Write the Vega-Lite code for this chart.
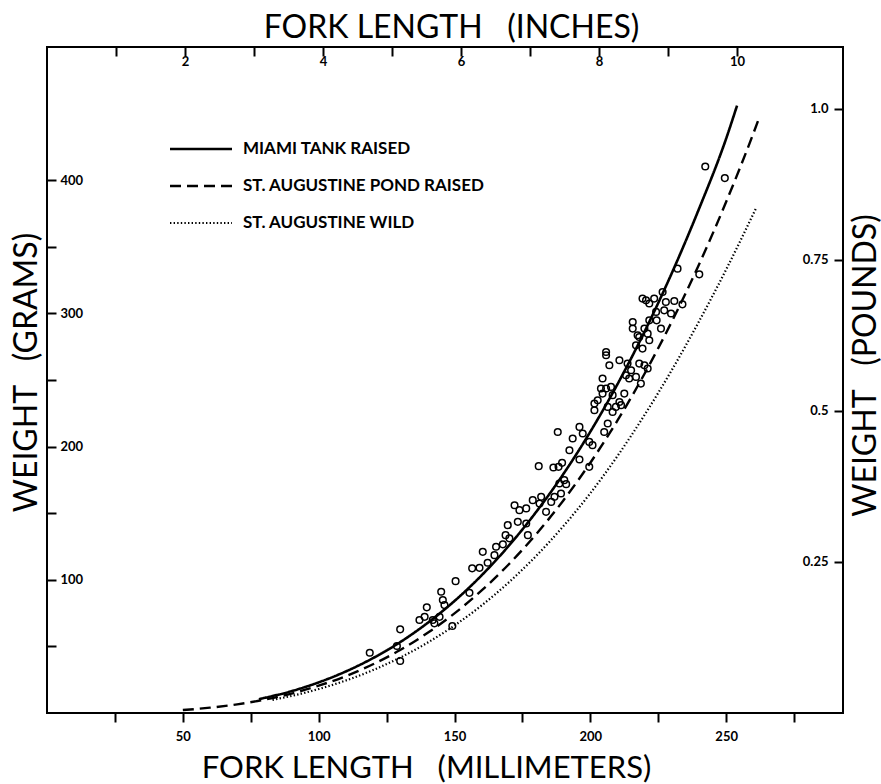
{
  "$schema": "https://vega.github.io/schema/vega-lite/v6.json",
  "width": 796,
  "height": 666,
  "autosize": {"type": "none"},
  "padding": {"left": 47, "top": 47, "right": 38, "bottom": 71},
  "background": "white",
  "datasets": {
    "curves": [
      {"series": "MIAMI TANK RAISED", "mm": 78, "g": 10.4},
      {"series": "MIAMI TANK RAISED", "mm": 90, "g": 16.4},
      {"series": "MIAMI TANK RAISED", "mm": 100, "g": 23.0},
      {"series": "MIAMI TANK RAISED", "mm": 110, "g": 31.2},
      {"series": "MIAMI TANK RAISED", "mm": 120, "g": 41.2},
      {"series": "MIAMI TANK RAISED", "mm": 130, "g": 53.2},
      {"series": "MIAMI TANK RAISED", "mm": 140, "g": 67.5},
      {"series": "MIAMI TANK RAISED", "mm": 150, "g": 84.1},
      {"series": "MIAMI TANK RAISED", "mm": 160, "g": 103.4},
      {"series": "MIAMI TANK RAISED", "mm": 170, "g": 125.6},
      {"series": "MIAMI TANK RAISED", "mm": 180, "g": 150.8},
      {"series": "MIAMI TANK RAISED", "mm": 190, "g": 179.2},
      {"series": "MIAMI TANK RAISED", "mm": 200, "g": 211.2},
      {"series": "MIAMI TANK RAISED", "mm": 210, "g": 246.9},
      {"series": "MIAMI TANK RAISED", "mm": 220, "g": 286.5},
      {"series": "MIAMI TANK RAISED", "mm": 230, "g": 330.3},
      {"series": "MIAMI TANK RAISED", "mm": 240, "g": 378.5},
      {"series": "MIAMI TANK RAISED", "mm": 250, "g": 431.3},
      {"series": "MIAMI TANK RAISED", "mm": 254, "g": 456.0},
      {"series": "ST. AUGUSTINE POND RAISED", "mm": 50, "g": 2.2},
      {"series": "ST. AUGUSTINE POND RAISED", "mm": 60, "g": 4.0},
      {"series": "ST. AUGUSTINE POND RAISED", "mm": 70, "g": 6.5},
      {"series": "ST. AUGUSTINE POND RAISED", "mm": 80, "g": 10.0},
      {"series": "ST. AUGUSTINE POND RAISED", "mm": 90, "g": 14.6},
      {"series": "ST. AUGUSTINE POND RAISED", "mm": 100, "g": 20.5},
      {"series": "ST. AUGUSTINE POND RAISED", "mm": 110, "g": 27.7},
      {"series": "ST. AUGUSTINE POND RAISED", "mm": 120, "g": 36.6},
      {"series": "ST. AUGUSTINE POND RAISED", "mm": 130, "g": 47.3},
      {"series": "ST. AUGUSTINE POND RAISED", "mm": 140, "g": 60.0},
      {"series": "ST. AUGUSTINE POND RAISED", "mm": 150, "g": 74.8},
      {"series": "ST. AUGUSTINE POND RAISED", "mm": 160, "g": 92.0},
      {"series": "ST. AUGUSTINE POND RAISED", "mm": 170, "g": 111.7},
      {"series": "ST. AUGUSTINE POND RAISED", "mm": 180, "g": 134.1},
      {"series": "ST. AUGUSTINE POND RAISED", "mm": 190, "g": 159.4},
      {"series": "ST. AUGUSTINE POND RAISED", "mm": 200, "g": 187.9},
      {"series": "ST. AUGUSTINE POND RAISED", "mm": 210, "g": 219.6},
      {"series": "ST. AUGUSTINE POND RAISED", "mm": 220, "g": 254.9},
      {"series": "ST. AUGUSTINE POND RAISED", "mm": 230, "g": 293.9},
      {"series": "ST. AUGUSTINE POND RAISED", "mm": 240, "g": 336.7},
      {"series": "ST. AUGUSTINE POND RAISED", "mm": 250, "g": 383.8},
      {"series": "ST. AUGUSTINE POND RAISED", "mm": 260, "g": 435.1},
      {"series": "ST. AUGUSTINE POND RAISED", "mm": 262, "g": 446.0},
      {"series": "ST. AUGUSTINE WILD", "mm": 83, "g": 9.9},
      {"series": "ST. AUGUSTINE WILD", "mm": 90, "g": 12.8},
      {"series": "ST. AUGUSTINE WILD", "mm": 100, "g": 18.0},
      {"series": "ST. AUGUSTINE WILD", "mm": 110, "g": 24.4},
      {"series": "ST. AUGUSTINE WILD", "mm": 120, "g": 32.2},
      {"series": "ST. AUGUSTINE WILD", "mm": 130, "g": 41.6},
      {"series": "ST. AUGUSTINE WILD", "mm": 140, "g": 52.7},
      {"series": "ST. AUGUSTINE WILD", "mm": 150, "g": 65.7},
      {"series": "ST. AUGUSTINE WILD", "mm": 160, "g": 80.8},
      {"series": "ST. AUGUSTINE WILD", "mm": 170, "g": 98.1},
      {"series": "ST. AUGUSTINE WILD", "mm": 180, "g": 117.8},
      {"series": "ST. AUGUSTINE WILD", "mm": 190, "g": 140.1},
      {"series": "ST. AUGUSTINE WILD", "mm": 200, "g": 165.0},
      {"series": "ST. AUGUSTINE WILD", "mm": 210, "g": 193.0},
      {"series": "ST. AUGUSTINE WILD", "mm": 220, "g": 223.9},
      {"series": "ST. AUGUSTINE WILD", "mm": 230, "g": 257.5},
      {"series": "ST. AUGUSTINE WILD", "mm": 240, "g": 294.0},
      {"series": "ST. AUGUSTINE WILD", "mm": 250, "g": 333.0},
      {"series": "ST. AUGUSTINE WILD", "mm": 261, "g": 379.0}
    ],
    "fish": [
      {"mm": 118.8, "g": 45.2}, {"mm": 130.0, "g": 62.8}, {"mm": 130.0, "g": 39.0}, {"mm": 128.8, "g": 50.3},
      {"mm": 137.1, "g": 69.8}, {"mm": 139.8, "g": 79.3}, {"mm": 139.0, "g": 72.2}, {"mm": 142.0, "g": 69.8},
      {"mm": 144.5, "g": 72.2}, {"mm": 142.6, "g": 67.3}, {"mm": 145.1, "g": 91.0}, {"mm": 145.7, "g": 84.8},
      {"mm": 146.3, "g": 81.0}, {"mm": 149.2, "g": 65.3}, {"mm": 150.4, "g": 99.0}, {"mm": 155.5, "g": 90.2},
      {"mm": 156.5, "g": 108.6}, {"mm": 159.2, "g": 109.0}, {"mm": 160.4, "g": 121.0}, {"mm": 162.2, "g": 112.8},
      {"mm": 164.7, "g": 118.5}, {"mm": 165.3, "g": 124.8}, {"mm": 167.8, "g": 126.6}, {"mm": 168.8, "g": 133.5},
      {"mm": 169.6, "g": 141.0}, {"mm": 170.2, "g": 131.1}, {"mm": 173.3, "g": 143.5}, {"mm": 176.4, "g": 142.3},
      {"mm": 177.0, "g": 133.5},
      {"mm": 172.1, "g": 156.0}, {"mm": 173.9, "g": 152.3}, {"mm": 176.4, "g": 153.6}, {"mm": 178.8, "g": 159.8},
      {"mm": 181.3, "g": 157.3}, {"mm": 181.9, "g": 162.3}, {"mm": 183.7, "g": 151.0}, {"mm": 185.6, "g": 158.5},
      {"mm": 186.8, "g": 162.3}, {"mm": 181.0, "g": 185.3}, {"mm": 186.4, "g": 184.3}, {"mm": 188.3, "g": 184.8},
      {"mm": 189.6, "g": 187.8}, {"mm": 188.6, "g": 172.3}, {"mm": 190.4, "g": 174.8}, {"mm": 191.1, "g": 171.8},
      {"mm": 189.2, "g": 164.8}, {"mm": 192.3, "g": 197.3}, {"mm": 196.0, "g": 190.3}, {"mm": 199.6, "g": 184.8},
      {"mm": 188.0, "g": 211.0}, {"mm": 193.5, "g": 206.1}, {"mm": 196.0, "g": 214.8}, {"mm": 197.2, "g": 209.8},
      {"mm": 199.6, "g": 203.5}, {"mm": 200.8, "g": 201.1}, {"mm": 205.1, "g": 211.0}, {"mm": 206.4, "g": 217.3},
      {"mm": 201.5, "g": 232.3}, {"mm": 202.7, "g": 234.8}, {"mm": 201.5, "g": 227.3}, {"mm": 206.4, "g": 229.8},
      {"mm": 209.4, "g": 229.8}, {"mm": 211.3, "g": 231.1}, {"mm": 208.2, "g": 226.0}, {"mm": 210.7, "g": 233.5},
      {"mm": 204.5, "g": 239.8}, {"mm": 208.2, "g": 238.6}, {"mm": 212.5, "g": 239.8}, {"mm": 203.9, "g": 243.6},
      {"mm": 205.8, "g": 243.6}, {"mm": 207.6, "g": 244.8}, {"mm": 204.5, "g": 251.1}, {"mm": 213.1, "g": 253.6},
      {"mm": 214.3, "g": 251.1}, {"mm": 216.8, "g": 252.3}, {"mm": 218.6, "g": 247.3}, {"mm": 215.0, "g": 257.3},
      {"mm": 213.7, "g": 262.3}, {"mm": 218.0, "g": 262.3}, {"mm": 219.9, "g": 261.1}, {"mm": 221.1, "g": 258.6},
      {"mm": 210.7, "g": 264.8}, {"mm": 207.0, "g": 261.1}, {"mm": 205.8, "g": 271.0}, {"mm": 205.8, "g": 268.6},
      {"mm": 216.8, "g": 276.1}, {"mm": 219.2, "g": 273.6}, {"mm": 221.7, "g": 279.8}, {"mm": 218.0, "g": 282.3},
      {"mm": 242.3, "g": 410.3}, {"mm": 249.5, "g": 401.6}, {"mm": 232.1, "g": 333.6}, {"mm": 240.1, "g": 329.3},
      {"mm": 219.2, "g": 311.1}, {"mm": 220.5, "g": 309.8}, {"mm": 221.7, "g": 307.4}, {"mm": 223.5, "g": 311.1},
      {"mm": 227.8, "g": 308.6}, {"mm": 230.9, "g": 309.3}, {"mm": 233.9, "g": 306.8}, {"mm": 229.7, "g": 299.9},
      {"mm": 227.2, "g": 302.3}, {"mm": 224.2, "g": 301.1}, {"mm": 215.6, "g": 293.5}, {"mm": 215.6, "g": 288.6},
      {"mm": 221.7, "g": 294.8}, {"mm": 226.0, "g": 288.6}, {"mm": 224.4, "g": 294.8}, {"mm": 219.9, "g": 288.6},
      {"mm": 221.1, "g": 284.8}, {"mm": 226.6, "g": 316.1}, {"mm": 217.4, "g": 283.6}
    ],
    "scales2": [
      {"inch": 0, "lb": 0},
      {"inch": 11.5, "lb": 1.1}
    ]
  },
  "layer": [
    {
      "layer": [
        {
          "data": {"name": "fish"},
          "mark": {"type": "point", "shape": "circle", "filled": false, "stroke": "black", "strokeWidth": 1.5, "size": 44, "opacity": 1},
          "encoding": {
            "x": {"field": "mm", "type": "quantitative",
              "scale": {"domain": [0, 293], "nice": false, "zero": false},
              "axis": {
                "orient": "bottom", "domain": false,
                "values": [25, 50, 75, 100, 125, 150, 175, 200, 225, 250, 275],
                "labelExpr": "datum.value % 50 == 0 ? datum.label : ''",
                "tickSize": 9, "labelPadding": 8, "labelBaseline": "top",
                "title": "FORK LENGTH\u00a0\u00a0\u00a0(MILLIMETERS)", "titleFontSize": 31,
                "titleX": 379, "titleY": 64, "titleAlign": "center", "titleBaseline": "alphabetic", "titleAngle": 0
              }
            },
            "y": {"field": "g", "type": "quantitative",
              "scale": {"domain": [0, 500], "nice": false, "zero": false},
              "axis": {
                "orient": "left", "domain": false, "offset": -9,
                "values": [50, 100, 150, 200, 250, 300, 350, 400],
                "labelExpr": "datum.value % 100 == 0 ? datum.label : ''",
                "tickSize": 9, "labelPadding": -13, "labelAlign": "left", "labelBaseline": "middle",
                "title": "WEIGHT\u00a0\u00a0\u00a0(GRAMS)",
                "titleAngle": 270, "titleX": -20, "titleY": 325, "titleAlign": "center", "titleBaseline": "alphabetic"
              }
            }
          }
        },
        {
          "data": {"name": "curves"},
          "mark": {"type": "line", "color": "black", "interpolate": "monotone"},
          "encoding": {
            "x": {"field": "mm", "type": "quantitative"},
            "y": {"field": "g", "type": "quantitative"},
            "detail": {"field": "series"},
            "strokeDash": {"field": "series", "type": "nominal",
              "scale": {"domain": ["MIAMI TANK RAISED", "ST. AUGUSTINE POND RAISED", "ST. AUGUSTINE WILD"],
                        "range": [[1, 0], [11, 6], [1.4, 2.2]]},
              "legend": {
                "orient": "none", "legendX": 137, "legendY": 85, "title": null,
                "symbolType": "M-2,0H2", "symbolSize": 961, "symbolStrokeColor": "black",
                "labelFontSize": 17, "labelFontWeight": "bold", "labelFont": "Lato", "labelColor": "black",
                "labelOffset": 25, "rowPadding": 12, "labelLimit": 500
              }
            },
            "strokeWidth": {"field": "series", "type": "nominal",
              "scale": {"domain": ["MIAMI TANK RAISED", "ST. AUGUSTINE POND RAISED", "ST. AUGUSTINE WILD"],
                        "range": [2.6, 2.2, 1.5]},
              "legend": {
                "orient": "none", "legendX": 137, "legendY": 85, "title": null,
                "symbolType": "M-2,0H2", "symbolSize": 961, "symbolStrokeColor": "black",
                "labelFontSize": 17, "labelFontWeight": "bold", "labelFont": "Lato", "labelColor": "black",
                "labelOffset": 25, "rowPadding": 12, "labelLimit": 500
              }
            }
          }
        }
      ]
    },
    {
      "data": {"name": "scales2"},
      "mark": {"type": "point", "opacity": 0},
      "encoding": {
        "x": {"field": "inch", "type": "quantitative",
          "scale": {"domain": [0, 11.5354], "nice": false, "zero": false},
          "axis": {
            "orient": "top", "domain": false, "offset": -9,
            "values": [1, 2, 3, 4, 5, 6, 7, 8, 9, 10],
            "labelExpr": "datum.value % 2 == 0 ? datum.label : ''",
            "tickSize": 9, "labelPadding": -8, "labelBaseline": "top",
            "title": "FORK LENGTH\u00a0\u00a0\u00a0(INCHES)",
            "titleX": 404, "titleY": -19, "titleAlign": "center", "titleBaseline": "alphabetic", "titleAngle": 0
          }
        },
        "y": {"field": "lb", "type": "quantitative",
          "scale": {"domain": [0, 1.10231], "nice": false, "zero": false},
          "axis": {
            "orient": "right", "domain": false, "offset": -9,
            "values": [0.25, 0.5, 0.75, 1],
            "labelExpr": "datum.value == 1 ? '1.0' : datum.value == 0.5 ? '0.5' : datum.value == 0.25 ? '0.25' : '0.75'",
            "tickSize": 9, "labelPadding": -15, "labelAlign": "right", "labelBaseline": "middle",
            "title": "WEIGHT\u00a0\u00a0\u00a0(POUNDS)",
            "titleAngle": 270, "titleX": 41, "titleY": 318, "titleAlign": "center", "titleBaseline": "alphabetic"
          }
        }
      }
    }
  ],
  "resolve": {"scale": {"x": "independent", "y": "independent"}, "axis": {"x": "independent", "y": "independent"}},
  "config": {
    "font": "Lato",
    "view": {"stroke": "black", "strokeWidth": 2},
    "axis": {
      "grid": false, "domainColor": "black", "domainWidth": 2, "tickColor": "black", "tickWidth": 2,
      "labelColor": "black", "labelFont": "Lato", "labelFontSize": 13, "labelFontWeight": "bold",
      "titleColor": "black", "titleFont": "Lato", "titleFontSize": 32, "titleFontWeight": "normal"
    }
  }
}
